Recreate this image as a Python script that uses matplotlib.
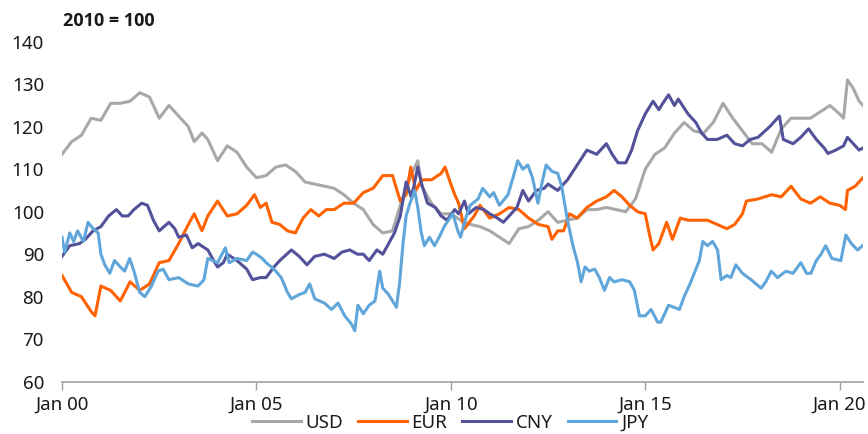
import matplotlib
matplotlib.use("Agg")
import matplotlib.pyplot as plt

# ---- data (years since Jan 2000, index 2010 = 100) ----
usd_t = [0.0,0.25,0.5,0.75,1.0,1.25,1.5,1.75,2.0,2.25,2.5,2.75,3.0,3.25,3.4,3.6,3.75,4.0,4.25,4.5,4.75,
         5.0,5.25,5.5,5.75,6.0,6.25,6.5,6.75,7.0,7.25,7.5,7.75,8.0,8.25,8.5,8.75,9.0,9.15,9.25,9.5,9.75,
         10.0,10.25,10.5,10.75,11.0,11.25,11.5,11.75,12.0,12.25,12.5,12.75,13.0,13.25,13.5,13.75,14.0,14.25,
         14.5,14.75,15.0,15.25,15.5,15.75,16.0,16.25,16.5,16.75,17.0,17.25,17.5,17.75,18.0,18.25,18.5,18.75,
         19.0,19.25,19.5,19.75,20.0,20.1,20.2,20.35,20.5,20.6]
usd_v = [113.5,116.5,118,122,121.5,125.5,125.5,126,128,127,122,125,122.5,120,116.5,118.5,117,112,115.5,114,110.5,
         108,108.5,110.5,111,109.5,107,106.5,106,105.5,104,102,100.5,97,95,95.5,103,109,112,106,102,99.5,
         99.5,98,97,96.5,95.5,94,92.5,96,96.5,98,100,97.5,98,98.5,100.5,100.5,101,100.5,
         100,103,110,113.5,115,118.5,121,119,118.5,121,125.5,122,119,116,116,114,119.5,122,
         122,122,123.5,125,123,122,131,129,126,125]

eur_t = [0.0,0.25,0.5,0.75,0.85,1.0,1.25,1.5,1.75,2.0,2.25,2.5,2.75,3.0,3.25,3.4,3.6,3.75,4.0,4.25,4.5,4.75,
         4.95,5.1,5.25,5.4,5.6,5.8,6.0,6.2,6.4,6.6,6.8,7.0,7.25,7.5,7.6,7.75,8.0,8.25,8.5,8.7,8.85,8.97,9.1,
         9.25,9.5,9.75,9.85,10.0,10.1,10.2,10.35,10.6,10.75,11.0,11.25,11.5,11.75,12.0,12.25,12.5,12.6,12.75,
         12.9,13.05,13.25,13.5,13.75,14.0,14.2,14.4,14.6,14.8,15.0,15.1,15.2,15.35,15.55,15.7,15.9,16.1,16.35,
         16.6,16.85,17.1,17.3,17.5,17.6,17.9,18.25,18.5,18.75,19.0,19.25,19.5,19.75,20.0,20.15,20.2,20.4,20.55,20.6]
eur_v = [85,81,80,76.5,75.5,82.5,81.5,79,83.5,81.5,83,88,88.5,92.5,97,99.5,95.5,99,102.5,99,99.5,101.5,
         104,101,102,97.5,97,95.5,95,98.5,100.5,99,100.5,100.5,102,102,103,104.5,105.5,108.5,108.5,102.5,104,110.5,105,
         107.5,107.5,109,110.5,106.5,104,102,96,99,101.5,98.5,99.5,101,100.5,98.5,97,96.5,93.5,95.5,
         95.5,99.5,98.5,101,102.5,103.5,105,103.5,101.5,100,99.5,95,91,92.5,97.5,93.5,98.5,98,98,
         98,97,96,97,99.5,102.5,103,104,103.5,106,103,102,103.5,102,101.5,100.5,105,106,107.5,108]

cny_t = [0.0,0.2,0.45,0.6,0.8,1.0,1.2,1.4,1.55,1.7,1.85,2.05,2.2,2.35,2.5,2.75,2.9,3.0,3.2,3.35,3.5,3.75,3.9,
         4.0,4.15,4.25,4.5,4.75,4.9,5.1,5.25,5.45,5.6,5.9,6.1,6.3,6.5,6.75,7.0,7.2,7.4,7.6,7.75,7.9,8.1,8.25,
         8.4,8.55,8.7,8.85,8.98,9.05,9.15,9.25,9.4,9.6,9.75,9.9,10.1,10.2,10.35,10.45,10.65,10.85,11.0,11.2,
         11.35,11.5,11.7,11.85,12.0,12.2,12.4,12.5,12.75,13.0,13.25,13.5,13.75,14.0,14.15,14.3,14.5,14.65,14.8,
         15.0,15.2,15.35,15.45,15.6,15.75,15.85,16.1,16.3,16.45,16.6,16.85,17.1,17.3,17.5,17.7,17.9,18.2,18.35,
         18.45,18.55,18.8,19.0,19.2,19.4,19.6,19.7,19.9,20.1,20.2,20.35,20.5,20.6]
cny_v = [89.5,92,92.5,93.5,95.5,96.5,99,100.5,99,99,100.5,102,101.5,98,95.5,97.5,96,94,94.5,91.5,92.5,91,88.5,
         87,88,90,88.5,86.5,84,84.5,84.5,87,88.5,91,89.5,87.5,89.5,90,89,90.5,91,90,90,88.5,91,90,
         92.5,95,99,107,103.5,106,110.5,106.5,102,101,99,98,100.5,99.5,102.5,99.5,101,100.5,99.5,98.5,
         97.5,99,101,105,102.5,105,105.5,106.5,105,107.5,111,114.5,113.5,116,113.5,111.5,111.5,114.5,119,
         123,126,124,125.5,127.5,125,126.5,123,121,118.5,117,117,118,116,115.5,117,117.5,120,121.5,
         122.5,117,116,117.5,119.5,117,115,113.7,114.5,115.5,117.5,116,114.5,115]

jpy_t = [0.0,0.07,0.2,0.3,0.4,0.55,0.67,0.8,0.93,1.0,1.1,1.23,1.35,1.5,1.61,1.74,1.85,2.0,2.13,2.3,2.47,2.6,2.75,
         3.0,3.25,3.5,3.65,3.75,4.0,4.2,4.3,4.5,4.75,4.9,5.0,5.15,5.25,5.45,5.64,5.8,5.9,6.1,6.25,6.37,6.5,
         6.75,6.93,7.1,7.27,7.45,7.53,7.61,7.75,7.9,8.05,8.17,8.25,8.4,8.6,8.68,8.77,8.85,8.95,9.07,9.15,9.24,
         9.32,9.45,9.58,9.7,9.83,10.05,10.18,10.25,10.4,10.5,10.7,10.82,11.0,11.1,11.25,11.47,11.6,11.72,11.85,
         11.98,12.1,12.24,12.35,12.45,12.6,12.75,12.85,13.0,13.14,13.26,13.35,13.45,13.56,13.7,13.82,13.95,14.08,
         14.2,14.4,14.6,14.72,14.85,15.0,15.15,15.32,15.4,15.6,15.88,16.0,16.15,16.26,16.39,16.48,16.6,16.73,
         16.86,16.95,17.1,17.2,17.33,17.5,17.72,17.98,18.1,18.24,18.4,18.62,18.8,19.0,19.15,19.26,19.4,19.52,
         19.64,19.8,20.03,20.16,20.3,20.46,20.59]
jpy_v = [94,90.5,95,93,95.5,93,97.5,96,95,90,87.5,85.5,88.5,87,86,89,86,81,80,82.5,86,86.5,84,
         84.5,83,82.5,84,89,88,91.5,88,89,88.5,90.5,90,89,88,86.5,84.5,81,79.5,80.5,81,83,79.5,
         78.5,77,78.5,75.5,73.5,72,78,76,78,79,86,82,80.5,77.5,83,92.5,99,102,105,101,95,
         92,94,92,94,96.5,99.5,95.5,94,99,101.5,103,105.5,103.5,104.5,101.5,104,108,112,110,
         111,108,102,107,111,109.5,109,106,98,92,88,83.5,87,86,86.5,84.5,81.5,84.5,
         83.5,84,83.5,81.5,75.5,75.5,77,74,74,78,77,80,83,85.5,88.5,93,92,93,
         91,84,85,84.5,87.5,85.5,84,82,83.5,86,84.5,86,85.5,88,85.5,85.5,88.5,90,
         92,89,88.5,94.5,92.5,91,92]

series_names = ["USD", "EUR", "CNY", "JPY"]
series_colors = ["#A8A8A8", "#FF6200", "#525199", "#60A6DA"]
xtick_pos = [0, 5, 10, 15, 20]
xtick_labels = ["Jan 00", "Jan 05", "Jan 10", "Jan 15", "Jan 20"]
ytick_pos = [60, 70, 80, 90, 100, 110, 120, 130, 140]
title_text = "2010 = 100"

plt.rcParams['font.family'] = ['Noto Sans', 'DejaVu Sans']
txt = "#1a1a1a"
fs = 13.5

fig = plt.figure(figsize=(8.68, 4.34), dpi=100)
ax = fig.add_axes([62/868, 1 - 381.7/434, (863-62)/868, (381.7-41.7)/434])

data = [(usd_t, usd_v), (eur_t, eur_v), (cny_t, cny_v), (jpy_t, jpy_v)]
for (t, v), name, c in zip(data, series_names, series_colors):
    assert len(t) == len(v), name
    ax.plot(t, v, color=c, lw=2.2, label=name, solid_joinstyle='round')

ax.set_xlim(0, 20.6)
ax.set_ylim(60, 140)
ax.set_xticks(xtick_pos)
ax.set_xticklabels(xtick_labels)
ax.set_yticks(ytick_pos)
for s in ["top", "right", "left"]:
    ax.spines[s].set_visible(False)
ax.spines["bottom"].set_color("#A0A0A0")
ax.spines["bottom"].set_linewidth(1.2)
ax.tick_params(axis="x", length=6, width=1, color="#A0A0A0", pad=4, labelsize=fs, labelcolor=txt)
ax.tick_params(axis="y", length=0, pad=13, labelsize=fs, labelcolor=txt)

fig.text(63/868, 1 - 21/434, title_text, fontsize=13, fontweight="bold", color=txt, va="center", ha="left",
         family=['Open Sans', 'DejaVu Sans'])

handles, labels = ax.get_legend_handles_labels()
fig.legend(handles, labels, loc="center", bbox_to_anchor=(450/868, 1 - 423/434), ncol=4, frameon=False,
           fontsize=fs, handlelength=2.6, handletextpad=0.25, columnspacing=0.8, labelcolor=txt)

fig.savefig("out.png", dpi=100)
